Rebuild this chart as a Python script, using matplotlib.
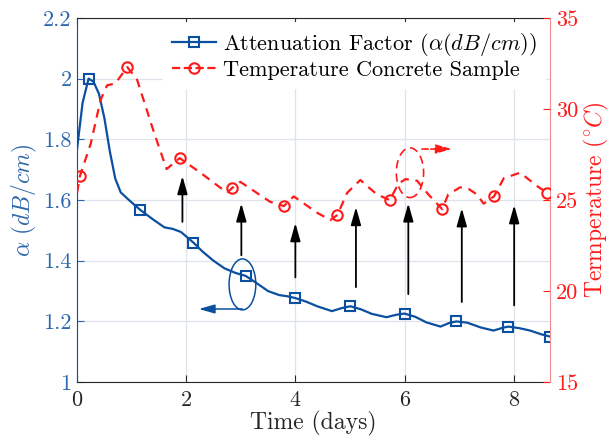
import numpy as np
import matplotlib
matplotlib.use("Agg")
import matplotlib.pyplot as plt
from matplotlib.patches import Ellipse
from matplotlib.lines import Line2D
from matplotlib.ticker import FuncFormatter

plt.rcParams['font.family'] = 'serif'
plt.rcParams['font.serif'] = ['cmr10']
plt.rcParams['mathtext.fontset'] = 'cm'
plt.rcParams['axes.unicode_minus'] = False
plt.rcParams['axes.formatter.use_mathtext'] = True

# ---------------- data ----------------
# attenuation (left axis), line and its markers
att_days = [0.0, 0.1, 0.21, 0.3, 0.4, 0.5, 0.6, 0.7, 0.8, 0.95, 1.16, 1.4, 1.6, 1.75, 1.9,
            2.0, 2.13, 2.3, 2.5, 2.7, 2.9, 3.09, 3.3, 3.5, 3.7, 3.85, 4.0, 4.2, 4.4, 4.67,
            4.85, 5.01, 5.2, 5.4, 5.67, 5.85, 6.0, 6.2, 6.4, 6.66, 6.82, 6.95, 7.15, 7.4,
            7.63, 7.8, 7.9, 8.1, 8.3, 8.5, 8.67]
att_vals = [1.77, 1.92, 2.0, 1.99, 1.95, 1.87, 1.76, 1.67, 1.625, 1.60, 1.567, 1.535, 1.51,
            1.505, 1.495, 1.48, 1.46, 1.43, 1.40, 1.375, 1.36, 1.35, 1.325, 1.30, 1.287,
            1.283, 1.277, 1.265, 1.25, 1.234, 1.244, 1.25, 1.24, 1.225, 1.214, 1.222, 1.226,
            1.215, 1.197, 1.183, 1.195, 1.2, 1.196, 1.18, 1.17, 1.179, 1.183, 1.178, 1.17,
            1.158, 1.15]
att_marks = [2, 10, 16, 21, 26, 31, 36, 41, 46, 50]

# temperature (right axis), line and its markers
tmp_days = [0.0, 0.05, 0.25, 0.43, 0.55, 0.7, 0.92, 1.1, 1.41, 1.64, 1.88, 2.26, 2.57, 2.75,
            2.84, 2.99, 3.54, 3.79, 3.97, 4.4, 4.64, 4.77, 4.95, 5.19, 5.38, 5.5, 5.73,
            5.89, 6.02, 6.23, 6.44, 6.69, 6.8, 7.02, 7.18, 7.33, 7.45, 7.64, 7.82, 8.12,
            8.46, 8.62]
tmp_vals = [25.4, 26.3, 28.1, 30.5, 31.3, 31.4, 32.3, 31.6, 28.7, 26.7, 27.3, 26.5, 25.8,
            25.4, 25.66, 26.0, 24.9, 24.67, 25.2, 24.3, 23.9, 24.18, 25.4, 26.1, 25.6, 25.3,
            25.0, 25.9, 26.15, 26.06, 25.3, 24.5, 25.3, 25.7, 25.6, 25.3, 24.8, 25.2, 26.2,
            26.5, 25.7, 25.4]
tmp_marks = [1, 6, 10, 14, 17, 21, 26, 31, 37, 41]

# black arrows (left-axis units)
arrow_x = [1.93, 3.01, 4.0, 5.11, 6.07, 7.05, 8.01]
arrow_tail = [1.528, 1.418, 1.345, 1.313, 1.29, 1.264, 1.253]
arrow_head = [1.679, 1.589, 1.524, 1.577, 1.589, 1.573, 1.583]

blue = '#0b4fa0'
blue_lbl = '#2d67ad'
red = '#ff1a1a'

fig = plt.figure(figsize=(6.12, 4.48), dpi=100)
ax = fig.add_axes([0.126, 0.147, 0.773, 0.813])
ax2 = ax.twinx()

ax.plot(att_days, att_vals, '-', color=blue, lw=1.6, marker='s', markevery=att_marks,
        ms=7, mfc='none', mew=1.5, zorder=3)
ax2.plot(tmp_days, tmp_vals, '--', color=red, lw=1.6, marker='o', markevery=tmp_marks,
         ms=7.5, mfc='none', mew=1.5, dashes=(4, 3), zorder=3)

head = '-|>,head_length=0.6,head_width=0.17'
for x, t, h in zip(arrow_x, arrow_tail, arrow_head):
    ax.annotate('', xy=(x, h), xytext=(x, t),
                arrowprops=dict(arrowstyle=head, color='k', lw=1.3,
                                mutation_scale=18, shrinkA=0, shrinkB=0))

# blue ellipse + arrow to the left axis
ax.add_patch(Ellipse((3.03, 1.322), 0.49, 0.168, fill=False, ec=blue, lw=1.1, zorder=4))
ax.annotate('', xy=(2.23, 1.241), xytext=(3.03, 1.241),
            arrowprops=dict(arrowstyle=head, color=blue, lw=1.1,
                            mutation_scale=16, shrinkA=0, shrinkB=0))

# red dashed ellipse + arrow to the right axis
ax2.add_patch(Ellipse((6.1, 26.5), 0.5, 2.73, fill=False, ec=red, lw=1.2,
                      ls=(0, (5, 3)), zorder=4))
ax2.annotate('', xy=(6.87, 27.8), xytext=(6.32, 27.8),
             arrowprops=dict(arrowstyle=head, color=red, lw=1.2, ls='--',
                             mutation_scale=16, shrinkA=0, shrinkB=0))

# axes
ax.set_xlim(0, 8.67)
ax.set_ylim(1, 2.2)
ax2.set_ylim(15, 35)
ax.set_xticks([0, 2, 4, 6, 8])
ax.set_yticks(np.arange(1, 2.21, 0.2))
ax2.set_yticks([15, 20, 25, 30, 35])
fmt = FuncFormatter(lambda v, p: f'{v:g}')
ax.yaxis.set_major_formatter(fmt)
ax.xaxis.set_major_formatter(fmt)
ax2.yaxis.set_major_formatter(fmt)

ax.grid(True, color='#dfe4ea', lw=0.9)
ax.set_axisbelow(True)

ax.tick_params(axis='x', direction='in', top=True, length=5, labelsize=16,
               colors='#262626', pad=6)
ax.tick_params(axis='y', direction='in', length=5, labelsize=16, colors=blue_lbl, pad=4)
ax2.tick_params(axis='y', direction='in', length=5, labelsize=16, colors=red, pad=4)

ax.spines['left'].set_color(blue)
ax.spines['right'].set_visible(False)
ax.spines['top'].set_color('#262626')
ax.spines['bottom'].set_color('#262626')
ax2.spines['left'].set_visible(False)
ax2.spines['top'].set_visible(False)
ax2.spines['bottom'].set_visible(False)
ax2.spines['right'].set_color('#f28b8b')

ax.set_xlabel('Time (days)', fontsize=17, color='#262626', labelpad=1)
ax.set_ylabel(r'$\alpha\ (dB/cm)$', fontsize=17, color=blue_lbl, labelpad=3)
ax2.set_ylabel(r'Termperature $(^{\circ}C)$', fontsize=17, color=red, labelpad=3)

handles = [Line2D([], [], color=blue, lw=1.6, marker='s', ms=7, mfc='none', mew=1.5),
           Line2D([], [], color=red, lw=1.6, ls='--', marker='o', ms=7.5, mfc='none', mew=1.5)]
labels = [r'Attenuation Factor ($\alpha(dB/cm)$)', 'Temperature Concrete Sample']
leg = ax2.legend(handles, labels, loc='upper right', fontsize=16, frameon=True,
                 framealpha=1, edgecolor='none', borderaxespad=0.2,
                 handlelength=2.0, handletextpad=0.3, labelspacing=0.1)

fig.savefig('out.png', dpi=100)
